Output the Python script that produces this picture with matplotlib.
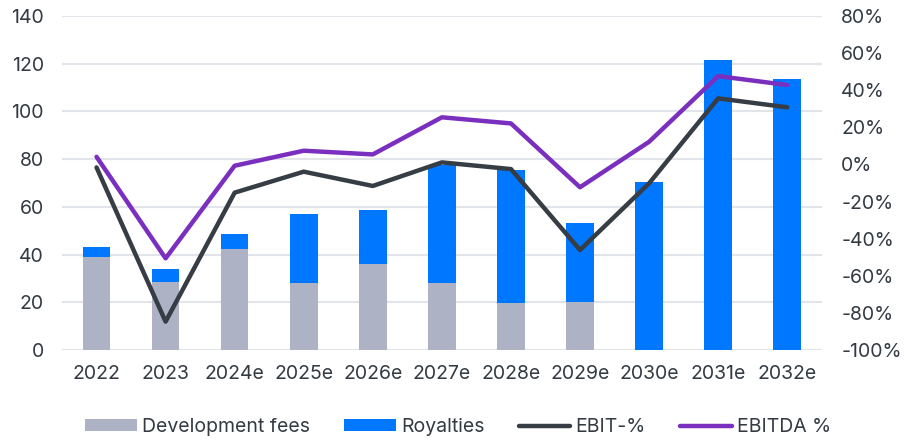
import numpy as np
import matplotlib
matplotlib.use("Agg")
import matplotlib.pyplot as plt
from matplotlib.ticker import PercentFormatter

plt.rcParams["font.family"] = ["Inter", "DejaVu Sans"]
plt.rcParams["axes.unicode_minus"] = False

years = ["2022", "2023", "2024e", "2025e", "2026e", "2027e",
         "2028e", "2029e", "2030e", "2031e", "2032e"]
dev_fees = [39.1, 28.5, 42.3, 27.9, 36.0, 28.2, 19.8, 20.0, 0, 0, 0]
royalties = [4.2, 5.3, 6.4, 29.1, 22.5, 49.3, 55.6, 33.1, 70.3, 121.5, 113.7]
ebit_pct = [-1.6, -84.7, -15.2, -3.9, -11.6, 1.1, -2.5, -46.1, -10.2, 35.6, 30.8]
ebitda_pct = [4.1, -50.6, -0.7, 7.4, 5.4, 25.4, 22.1, -12.3, 12.2, 47.6, 42.8]

text_col = "#333a42"
gray = "#adb3c4"
blue = "#0077ff"
dark = "#363d45"
purple = "#7b2fbe"

fig = plt.figure(figsize=(9.05, 4.44), dpi=100)
ax = fig.add_axes([0.0685, 0.2117, 0.8395, 0.7523])
x = np.arange(len(years))

ax.bar(x, dev_fees, width=0.4, color=gray, label="Development fees", zorder=2)
ax.bar(x, royalties, width=0.4, bottom=dev_fees, color=blue, label="Royalties", zorder=2)
ax.set_ylim(0, 140)
ax.set_yticks(range(0, 141, 20))
ax.set_xlim(-0.5, len(years) - 0.5)
ax.set_xticks(x)
ax.set_xticklabels(years)
ax.grid(axis="y", color="#e1e4e9", linewidth=1.5, zorder=0)
ax.set_axisbelow(True)

ax2 = ax.twinx()
ax2.plot(x, ebit_pct, color=dark, linewidth=3.2, label="EBIT-%", zorder=3,
         solid_capstyle="round", solid_joinstyle="round")
ax2.plot(x, ebitda_pct, color=purple, linewidth=3.2, label="EBITDA %", zorder=3,
         solid_capstyle="round", solid_joinstyle="round")
ax2.set_ylim(-100, 80)
ax2.set_yticks(range(-100, 81, 20))
ax2.yaxis.set_major_formatter(PercentFormatter(decimals=0))

for a in (ax, ax2):
    for s in a.spines.values():
        s.set_visible(False)
    a.tick_params(length=0, labelsize=14, colors=text_col)
ax.tick_params(axis="x", pad=11)
ax.tick_params(axis="y", pad=13)
ax2.tick_params(axis="y", pad=14)

h1, l1 = ax.get_legend_handles_labels()
h2, l2 = ax2.get_legend_handles_labels()
fig.legend(h1 + h2, l1 + l2, loc="center", bbox_to_anchor=(0.506, 0.038),
           ncol=4, frameon=False, fontsize=14, handlelength=2.67,
           handleheight=0.59, handletextpad=0.26, columnspacing=1.75,
           labelcolor=text_col)

fig.savefig("out.png", dpi=100)
